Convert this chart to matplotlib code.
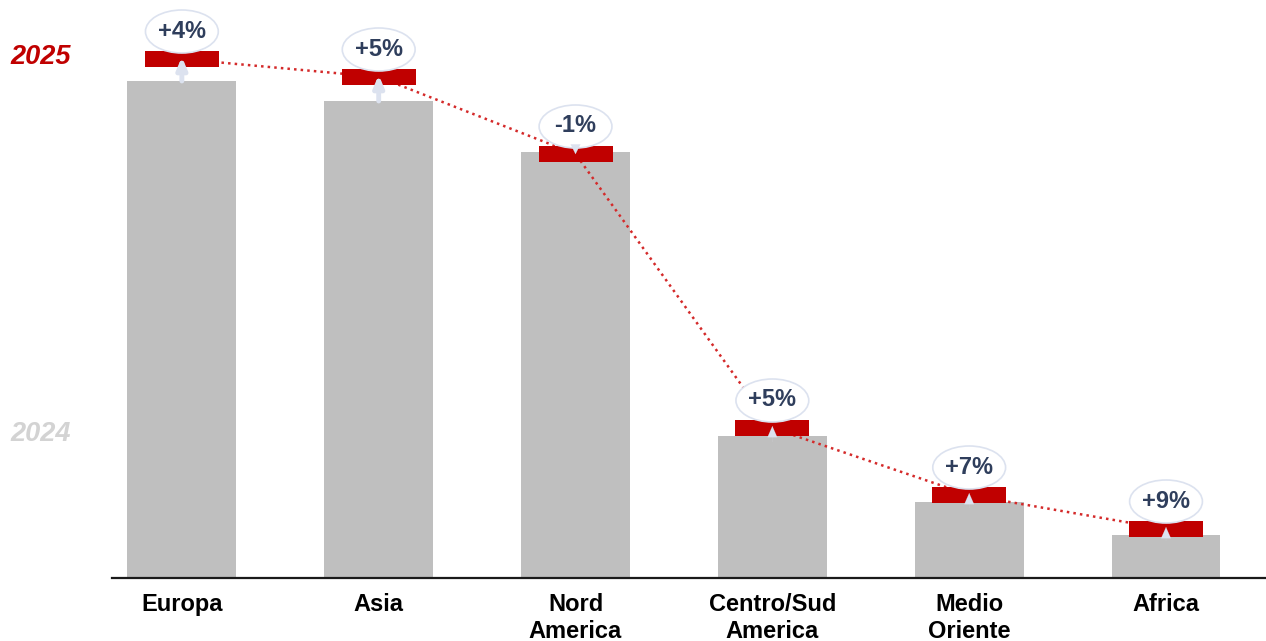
"""
Crescita per area: 2024 (barre) vs 2025 (marcatori rossi)
"""
import matplotlib
matplotlib.use('Agg')
import matplotlib.pyplot as plt
from matplotlib.patches import Ellipse

# Dati
regions = ['Europa', 'Asia', 'Nord\nAmerica', 'Centro/Sud\nAmerica', 'Medio\nOriente', 'Africa']
val_2024 = [49.7, 47.7, 42.6, 14.2, 7.6, 4.3]
val_2025 = [51.9, 50.1, 42.4, 15.0, 8.3, 4.9]
growth = ['+4%', '+5%', '-1%', '+5%', '+7%', '+9%']

# Colori
BAR_GREY = '#bfbfbf'
RED = '#c00000'
NAVY = '#2f3e5c'
LIGHT = '#dce2ef'

plt.rcParams['font.family'] = ['Liberation Sans', 'DejaVu Sans']

fig = plt.figure(figsize=(12.66, 6.41), dpi=100)
ax = fig.add_axes([112 / 1266, 63 / 641, 1 - 112 / 1266, 1 - 63 / 641])

x = list(range(len(regions)))

# Barre 2024
ax.bar(x, val_2024, width=0.553, color=BAR_GREY, zorder=2)

# Linea tratteggiata tra i valori 2025
ax.plot(x, val_2025, linestyle=':', color='#d42a2a', linewidth=1.8, zorder=3)

# Marcatori 2025
ax.bar(x, 1.6, bottom=[v - 0.8 for v in val_2025], width=0.376, color=RED, zorder=4)

# Frecce di variazione e etichette
for i in x:
    v24, v25 = val_2024[i], val_2025[i]
    if growth[i].startswith('-'):
        ax.annotate('', xy=(i, v25 - 0.3), xytext=(i, v25 + 0.9),
                    arrowprops=dict(arrowstyle='-|>,head_width=0.35,head_length=0.7',
                                    color=LIGHT, lw=0.1), zorder=6)
    elif v25 - v24 > 1.5:
        ax.annotate('', xy=(i, v25 + 0.2), xytext=(i, v24),
                    arrowprops=dict(arrowstyle='-|>,head_width=0.3,head_length=0.7',
                                    color=LIGHT, lw=3.5, shrinkA=0, shrinkB=0), zorder=6)
    else:
        ax.annotate('', xy=(i, v25 + 0.2), xytext=(i, v24 - 0.6),
                    arrowprops=dict(arrowstyle='-|>,head_width=0.35,head_length=0.8',
                                    color=LIGHT, lw=0.1, shrinkA=0, shrinkB=0), zorder=6)
    ell = Ellipse((i, v25 + 2.75), width=0.37, height=4.3, facecolor='white',
                  edgecolor=LIGHT, linewidth=1.2, zorder=5)
    ax.add_patch(ell)
    ax.text(i, v25 + 2.8, growth[i], ha='center', va='center', fontsize=17,
            fontweight='bold', color=NAVY, zorder=7)

ax.set_xlim(-0.355, 5.508)
ax.set_ylim(0, 57.8)
ax.set_xticks(x)
ax.set_xticklabels(regions, fontsize=17, fontweight='bold', linespacing=1.2)
ax.tick_params(axis='x', length=0, pad=11)
ax.set_yticks([])
for side in ['left', 'right', 'top']:
    ax.spines[side].set_visible(False)
ax.spines['bottom'].set_linewidth(1.6)
ax.spines['bottom'].set_color('#1a1a1a')

# Etichette anni a sinistra
fig.text(10 / 1266, 1 - 57 / 641, '2025', ha='left', va='center', fontsize=19.5,
         fontweight='bold', fontstyle='italic', color=RED)
fig.text(10 / 1266, 1 - 434 / 641, '2024', ha='left', va='center', fontsize=19.5,
         fontweight='bold', fontstyle='italic', color='#d3d3d3')

fig.savefig('out.png', dpi=100)
